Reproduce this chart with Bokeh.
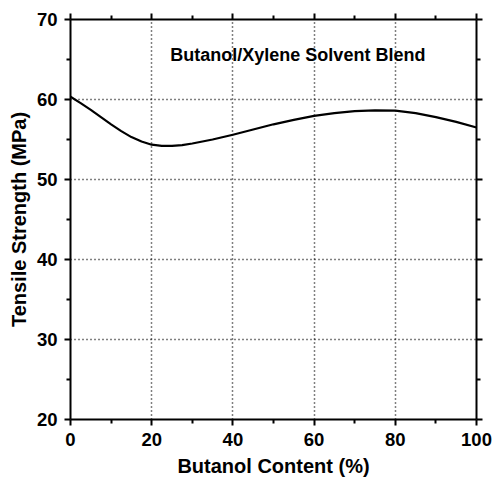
from bokeh.plotting import figure
from bokeh.models import LinearAxis, Range1d, Label, FixedTicker
from bokeh.embed import file_html
from bokeh.resources import INLINE

# Data
butanol_pct = [0, 2.5, 5, 7.5, 10, 12.5, 15, 17.5, 20, 22.5, 25, 27.5, 30, 35, 40, 45, 50, 55,
               60, 65, 70, 75, 80, 85, 90, 95, 100]
tensile_mpa = [60.35, 59.55, 58.7, 57.8, 56.9, 56.05, 55.3, 54.75, 54.35, 54.2, 54.2, 54.3,
               54.5, 55.0, 55.6, 56.25, 56.9, 57.45, 57.95, 58.3, 58.55, 58.65, 58.6, 58.3,
               57.8, 57.2, 56.5]
x_ticks = [0, 20, 40, 60, 80, 100]
x_minor = [10, 30, 50, 70, 90]
y_ticks = [20, 30, 40, 50, 60, 70]
y_minor = [25, 35, 45, 55, 65]
title_text = "Butanol/Xylene Solvent Blend"
x_label = "Butanol Content (%)"
y_label = "Tensile Strength (MPa)"

FONT = "Liberation Sans"

p = figure(width=496, height=480, output_backend="svg", toolbar_location=None,
           x_range=Range1d(0, 100), y_range=Range1d(20, 70),
           min_border_left=70, min_border_right=20, min_border_top=19, min_border_bottom=61,
           x_axis_label=x_label, y_axis_label=y_label)
p.outline_line_color = None
p.background_fill_color = "white"
p.border_fill_color = "white"

p.xaxis.ticker = FixedTicker(ticks=x_ticks, minor_ticks=x_minor)
p.yaxis.ticker = FixedTicker(ticks=y_ticks, minor_ticks=y_minor)

def style_ticks(ax):
    ax.axis_line_width = 2
    ax.axis_line_color = "black"
    ax.major_tick_line_width = 2
    ax.minor_tick_line_width = 2
    ax.major_tick_out = 6
    ax.major_tick_in = 0
    ax.minor_tick_out = 4
    ax.minor_tick_in = 0

for ax in [p.xaxis[0], p.yaxis[0]]:
    style_ticks(ax)
    ax.major_label_text_font = FONT
    ax.major_label_text_font_style = "bold"
    ax.major_label_text_font_size = "18.5px"
    ax.major_label_text_color = "black"
    ax.major_label_standoff = 7
    ax.axis_label_text_font = FONT
    ax.axis_label_text_font_style = "bold"
    ax.axis_label_text_font_size = "20px"
    ax.axis_label_text_color = "black"
p.xaxis.axis_label_standoff = 6
p.yaxis.axis_label_standoff = 4

# top and right axes (ticks only, no labels drawn)
top = LinearAxis(ticker=FixedTicker(ticks=x_ticks, minor_ticks=x_minor))
right = LinearAxis(ticker=FixedTicker(ticks=y_ticks, minor_ticks=y_minor))
for ax in [top, right]:
    style_ticks(ax)
    ax.major_label_text_color = None
    ax.major_label_text_font_size = "1px"
    ax.major_label_standoff = 0
p.add_layout(top, "above")
p.add_layout(right, "right")

p.xgrid.ticker = FixedTicker(ticks=x_ticks)
p.ygrid.ticker = FixedTicker(ticks=y_ticks)
for g in [p.xgrid[0], p.ygrid[0]]:
    g.grid_line_color = "black"
    g.grid_line_width = 1.5
    g.grid_line_dash = "1 3"

p.line(butanol_pct, tensile_mpa, line_color="black", line_width=2.2, line_join="round")

p.add_layout(Label(x=56, y=65.56, text=title_text, text_font=FONT, text_font_style="bold",
                   text_font_size="18px", text_align="center", text_baseline="alphabetic",
                   text_color="black"))

open("out.html", "w").write(file_html(p, INLINE))
